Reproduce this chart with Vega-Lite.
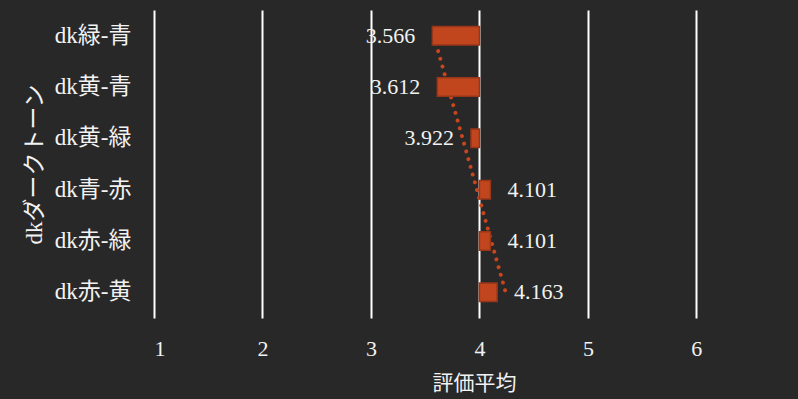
{
  "$schema": "https://vega.github.io/schema/vega-lite/v6.json",
  "autosize": "none",
  "width": 640,
  "height": 308,
  "padding": {"left": 154, "top": 10, "right": 4, "bottom": 81},
  "background": "#282828",
  "config": {
    "view": {"stroke": null},
    "font": "'Liberation Serif', 'Noto Sans CJK JP'"
  },
  "data": {
    "values": [
      {"cat": "dk緑-青", "v": 3.566, "trend": 3.580},
      {"cat": "dk黄-青", "v": 3.612, "trend": 3.712},
      {"cat": "dk黄-緑", "v": 3.922, "trend": 3.845},
      {"cat": "dk青-赤", "v": 4.101, "trend": 3.977},
      {"cat": "dk赤-緑", "v": 4.101, "trend": 4.109},
      {"cat": "dk赤-黄", "v": 4.163, "trend": 4.242}
    ]
  },
  "encoding": {
    "y": {
      "field": "cat",
      "type": "nominal",
      "sort": null,
      "scale": {"paddingInner": 0.64, "paddingOuter": 0.32},
      "axis": {
        "title": "dkダークトーン",
        "titleFont": "'Liberation Serif', 'Noto Sans CJK JP'",
        "titleFontSize": 23,
        "titleFontWeight": "normal",
        "titleColor": "#f2f2f2",
        "titlePadding": 8,
        "labelFont": "'Liberation Serif', 'Noto Sans CJK JP'",
        "labelFontSize": 23,
        "labelColor": "#f2f2f2",
        "labelPadding": 23,
        "domain": false,
        "ticks": false,
        "grid": false
      }
    }
  },
  "layer": [
    {
      "mark": {"type": "line", "color": "#c8461d", "strokeWidth": 4, "strokeDash": [0.01, 8], "strokeCap": "round"},
      "encoding": {
        "x": {"field": "trend", "type": "quantitative"}
      }
    },
    {
      "mark": {"type": "bar", "color": "#c2461d", "stroke": "#98361a", "strokeWidth": 1.5},
      "encoding": {
        "x": {
          "field": "v",
          "type": "quantitative",
          "scale": {"domain": [1, 6.9], "zero": false, "nice": false},
          "axis": {
            "values": [1, 2, 3, 4, 5, 6],
            "format": "d",
            "title": "評価平均",
            "titleFont": "'Noto Sans CJK JP'",
            "titleFontSize": 21,
            "titleFontWeight": "normal",
            "titleColor": "#f2f2f2",
            "titlePadding": 13,
            "labelFont": "'Liberation Serif'",
            "labelFontSize": 22,
            "labelColor": "#f2f2f2",
            "labelPadding": 20,
            "domain": false,
            "ticks": false,
            "grid": true,
            "gridColor": "#ffffff",
            "gridWidth": 2,
            "gridOpacity": 1
          }
        },
        "x2": {"datum": 4}
      }
    },
    {
      "transform": [{"filter": "datum.v < 4"}],
      "mark": {"type": "text", "align": "right", "dx": -17, "fontSize": 22, "color": "#f2f2f2", "font": "'Liberation Serif'"},
      "encoding": {
        "x": {"field": "v", "type": "quantitative"},
        "text": {"field": "v", "type": "quantitative", "format": ".3f"}
      }
    },
    {
      "transform": [{"filter": "datum.v >= 4"}],
      "mark": {"type": "text", "align": "left", "dx": 17, "fontSize": 22, "color": "#f2f2f2", "font": "'Liberation Serif'"},
      "encoding": {
        "x": {"field": "v", "type": "quantitative"},
        "text": {"field": "v", "type": "quantitative", "format": ".3f"}
      }
    }
  ]
}
